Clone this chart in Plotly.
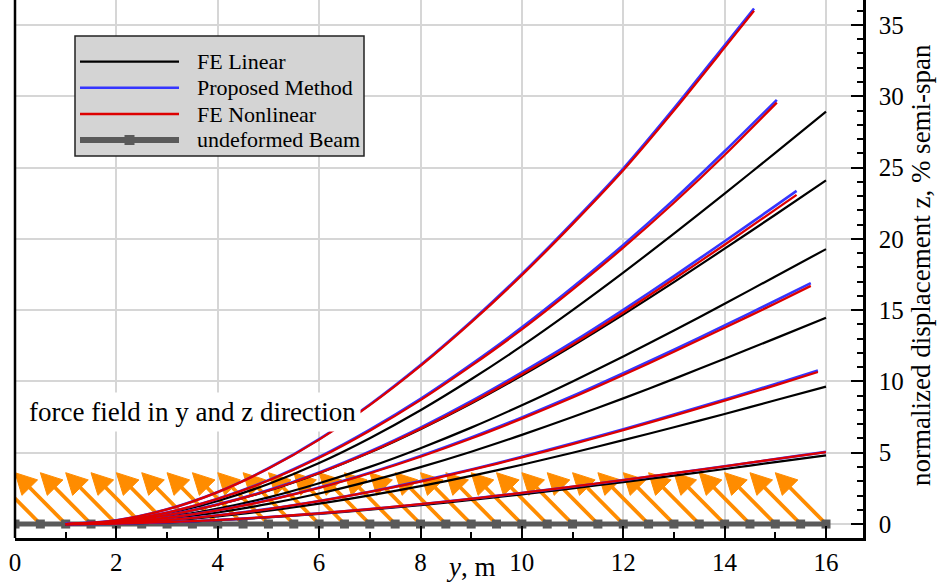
import math
import plotly.graph_objects as go

# ---------------- data ----------------
# spanwise stations for the linear FE solutions (m)
lin_x = [1, 2, 3, 4, 5, 6, 7, 8, 9, 10, 11, 12, 13, 14, 15, 16]
fe_linear = [
    [0, 0.03, 0.12, 0.27, 0.47, 0.71, 1.00, 1.33, 1.69, 2.08, 2.50, 2.94, 3.39, 3.86, 4.34, 4.82],
    [0, 0.06, 0.25, 0.54, 0.94, 1.43, 2.01, 2.66, 3.38, 4.16, 5.00, 5.88, 6.79, 7.72, 8.68, 9.64],
    [0, 0.09, 0.37, 0.81, 1.41, 2.14, 3.01, 3.99, 5.07, 6.25, 7.50, 8.81, 10.18, 11.59, 13.02, 14.46],
    [0, 0.13, 0.49, 1.08, 1.87, 2.86, 4.01, 5.32, 6.76, 8.33, 10.00, 11.75, 13.57, 15.45, 17.36, 19.28],
    [0, 0.16, 0.61, 1.35, 2.34, 3.57, 5.01, 6.65, 8.45, 10.41, 12.50, 14.69, 16.97, 19.31, 21.69, 24.10],
    [0, 0.19, 0.74, 1.62, 2.81, 4.28, 6.02, 7.98, 10.15, 12.49, 15.00, 17.63, 20.36, 23.17, 26.03, 28.92],
]

# spanwise stations of the nonlinear solutions (tips move inboard)
nl_x = [
    [1, 2, 3, 4, 5, 6, 7, 8, 9, 10, 11, 12, 13, 14, 15, 16],
    [1, 2, 3, 4, 5, 6, 7, 8, 9, 10, 11, 12, 13, 14, 15, 15.84],
    [1, 2, 3, 4, 5, 6, 7, 8, 9, 10, 11, 12, 13, 14, 15, 15.70],
    [1, 2, 3, 4, 5, 6, 7, 8, 9, 10, 11, 12, 13, 14, 15, 15.42],
    [1, 2, 3, 4, 5, 6, 7, 8, 9, 10, 11, 12, 13, 14, 15.03],
    [1, 2, 3, 4, 5, 6, 7, 8, 9, 10, 11, 12, 13, 14, 14.58],
]
fe_nonlinear = [
    [0, 0.03, 0.13, 0.28, 0.49, 0.75, 1.05, 1.39, 1.77, 2.18, 2.62, 3.08, 3.56, 4.05, 4.55, 5.05],
    [0, 0.07, 0.28, 0.60, 1.05, 1.60, 2.25, 2.98, 3.79, 4.67, 5.60, 6.58, 7.60, 8.65, 9.72, 10.66],
    [0, 0.11, 0.44, 0.96, 1.66, 2.53, 3.56, 4.72, 6.00, 7.39, 8.87, 10.45, 12.08, 13.76, 15.47, 16.70],
    [0, 0.16, 0.62, 1.36, 2.35, 3.58, 5.03, 6.68, 8.51, 10.50, 12.60, 14.84, 17.18, 19.59, 22.05, 23.08],
    [0, 0.20, 0.80, 1.76, 3.05, 4.65, 6.55, 8.69, 11.09, 13.65, 16.44, 19.38, 22.53, 25.88, 29.55],
    [0, 0.26, 1.02, 2.24, 3.89, 5.92, 8.34, 11.09, 14.14, 17.45, 21.03, 24.81, 29.00, 33.41, 36.00],
]
proposed = [
    [0, 0.03, 0.13, 0.28, 0.49, 0.75, 1.05, 1.39, 1.77, 2.18, 2.62, 3.08, 3.56, 4.05, 4.55, 5.06],
    [0, 0.07, 0.28, 0.61, 1.06, 1.62, 2.27, 3.01, 3.83, 4.72, 5.66, 6.65, 7.68, 8.74, 9.82, 10.77],
    [0, 0.11, 0.45, 0.97, 1.68, 2.56, 3.60, 4.78, 6.07, 7.48, 8.98, 10.58, 12.22, 13.93, 15.66, 16.90],
    [0, 0.16, 0.63, 1.38, 2.38, 3.62, 5.09, 6.76, 8.61, 10.63, 12.75, 15.02, 17.39, 19.83, 22.31, 23.36],
    [0, 0.20, 0.81, 1.78, 3.08, 4.70, 6.62, 8.78, 11.20, 13.79, 16.60, 19.57, 22.75, 26.14, 29.75],
    [0, 0.26, 1.03, 2.25, 3.91, 5.95, 8.38, 11.15, 14.21, 17.54, 21.14, 24.93, 29.15, 33.58, 36.15],
]

# undeformed beam nodes (m)
beam_y = [0, 0.5, 1, 1.5, 2, 2.5, 3, 3.5, 4, 4.5, 5, 5.5, 6, 6.5, 7, 7.5, 8,
          8.5, 9, 9.5, 10, 10.5, 11, 11.5, 12, 12.5, 13, 13.5, 14, 14.5, 15, 15.5, 16]
beam_z = [0] * len(beam_y)

# force field vector (plotted length, y and z components)
force_y = -1.0
force_z = 3.6

legend_labels = ["FE Linear", "Proposed Method", "FE Nonlinear", "undeformed Beam"]

# ---------------- style ----------------
FONT = "Liberation Serif"
C_LIN, C_PROP, C_NL = "#000000", "#3535ff", "#dd0000"
C_BEAM, C_ARROW = "#5a5a5a", "#ff8c00"
W, H = 939, 585
ML, MR, MT, MB = 15, 76, 0, 47
X_RANGE = [0, 16.73]
Y_RANGE = [-0.98, 36.75]
PW, PH = W - ML - MR, H - MT - MB
sx = PW / (X_RANGE[1] - X_RANGE[0])
sy = PH / (Y_RANGE[1] - Y_RANGE[0])


def px_to_paper(px, py):
    return (px - ML) / PW, (H - MB - py) / PH


fig = go.Figure()

# ---- force field arrows (drawn first, under the curves) ----
HEAD_LEN, HEAD_HALF = 21.0, 11.0
shaft_x, shaft_y, head_x, head_y = [], [], [], []
for y0, z0 in zip(beam_y, beam_z):
    vx, vy = force_y * sx, force_z * sy
    L = math.hypot(vx, vy)
    ux, uy = vx / L, vy / L
    tipx, tipy = y0 + force_y, z0 + force_z
    bx, by = tipx - HEAD_LEN * ux / sx, tipy - HEAD_LEN * uy / sy
    nx, ny = -uy, ux
    shaft_x += [y0, bx + 2 * ux / sx, None]
    shaft_y += [z0, by + 2 * uy / sy, None]
    head_x += [tipx, bx + HEAD_HALF * nx / sx, bx - HEAD_HALF * nx / sx, tipx, None]
    head_y += [tipy, by + HEAD_HALF * ny / sy, by - HEAD_HALF * ny / sy, tipy, None]

fig.add_trace(go.Scatter(x=shaft_x, y=shaft_y, mode="lines",
                         line=dict(color=C_ARROW, width=3.8), hoverinfo="skip"))
fig.add_trace(go.Scatter(x=head_x, y=head_y, mode="lines", fill="toself",
                         fillcolor=C_ARROW, line=dict(color=C_ARROW, width=1),
                         hoverinfo="skip"))

# ---- undeformed beam ----
fig.add_trace(go.Scatter(x=beam_y, y=beam_z, mode="lines+markers", name="undeformed Beam",
                         line=dict(color=C_BEAM, width=5),
                         marker=dict(symbol="square", size=9, color=C_BEAM)))

# ---- deflection curves ----
for ys in fe_linear:
    fig.add_trace(go.Scatter(x=lin_x, y=ys, mode="lines", name="FE Linear",
                             line=dict(color=C_LIN, width=2.2, shape="spline", smoothing=0.8)))
for xs, ys in zip(nl_x, proposed):
    fig.add_trace(go.Scatter(x=xs, y=ys, mode="lines", name="Proposed Method",
                             line=dict(color=C_PROP, width=2.6, shape="spline", smoothing=0.8)))
for xs, ys in zip(nl_x, fe_nonlinear):
    fig.add_trace(go.Scatter(x=xs, y=ys, mode="lines", name="FE Nonlinear",
                             line=dict(color=C_NL, width=2.3, shape="spline", smoothing=0.8)))

shapes = []
annotations = []

# left spine
shapes.append(dict(type="line", xref="paper", yref="paper", x0=0, x1=0, y0=0, y1=1,
                   line=dict(color="black", width=2.5), layer="above"))

# ---- custom legend ----
bx0, by1 = px_to_paper(75, 36)
bx1, by0 = px_to_paper(364, 156)
shapes.append(dict(type="rect", xref="paper", yref="paper", x0=bx0, x1=bx1, y0=by0, y1=by1,
                   fillcolor="#d4d4d4", line=dict(color="#222222", width=1.5), layer="above"))
leg_rows = [61.7, 87.7, 114, 140]
leg_styles = [(C_LIN, 2.2), (C_PROP, 2.4), (C_NL, 2.4), (C_BEAM, 6)]
for label, row, (col, wid) in zip(legend_labels, leg_rows, leg_styles):
    lx0, ly = px_to_paper(80, row)
    lx1, _ = px_to_paper(179, row)
    shapes.append(dict(type="line", xref="paper", yref="paper", x0=lx0, x1=lx1, y0=ly, y1=ly,
                       line=dict(color=col, width=wid), layer="above"))
    tx, _ = px_to_paper(195, row)
    annotations.append(dict(xref="paper", yref="paper", x=tx, y=ly, text=label,
                            showarrow=False, xanchor="left", yanchor="middle",
                            font=dict(family=FONT, size=22, color="black")))
mx, my = px_to_paper(129.5, leg_rows[3])
shapes.append(dict(type="rect", xref="paper", yref="paper", xsizemode="pixel", ysizemode="pixel",
                   xanchor=mx, yanchor=my, x0=-5, x1=5, y0=-5, y1=5,
                   fillcolor=C_BEAM, line=dict(width=0), layer="above"))

# ---- text annotations ----
fx, fy = px_to_paper(192.5, 411.5)
annotations.append(dict(xref="paper", yref="paper", x=fx, y=fy,
                        text="force field in y and z direction", showarrow=False,
                        xanchor="center", yanchor="middle", bgcolor="white", borderpad=4,
                        font=dict(family=FONT, size=27, color="black")))
ax_, ay_ = px_to_paper(471, 567)
annotations.append(dict(xref="paper", yref="paper", x=ax_, y=ay_, text="<i>y</i>, m",
                        showarrow=False, xanchor="center", yanchor="middle",
                        font=dict(family=FONT, size=27, color="black")))
rx, ry = px_to_paper(921, 265)
annotations.append(dict(xref="paper", yref="paper", x=rx, y=ry,
                        text="normalized displacement z, % semi-span", textangle=-90,
                        showarrow=False, xanchor="center", yanchor="middle",
                        font=dict(family=FONT, size=27, color="black")))

axis_common = dict(showline=True, linecolor="black", linewidth=2.5, mirror=False,
                   ticks="inside", ticklen=12, tickwidth=2, tickcolor="black",
                   showgrid=True, gridcolor="#d6d6d6", gridwidth=2, zeroline=False,
                   tickfont=dict(family=FONT, size=25, color="black"))

fig.update_layout(
    width=W, height=H,
    margin=dict(l=ML, r=MR, t=MT, b=MB),
    paper_bgcolor="white", plot_bgcolor="white",
    showlegend=False,
    xaxis=dict(range=X_RANGE, tick0=0, dtick=2,
               minor=dict(dtick=1, tick0=0, ticks="inside", ticklen=6, tickwidth=1.5,
                          tickcolor="black", showgrid=False),
               **axis_common),
    yaxis=dict(range=Y_RANGE, side="right", tick0=0, dtick=5, ticklabelstandoff=8,
               minor=dict(dtick=1, tick0=0, ticks="inside", ticklen=6, tickwidth=1.5,
                          tickcolor="black", showgrid=False),
               **axis_common),
    shapes=shapes,
    annotations=annotations,
    font=dict(family=FONT, color="black"),
)

fig.write_html("out.html")
